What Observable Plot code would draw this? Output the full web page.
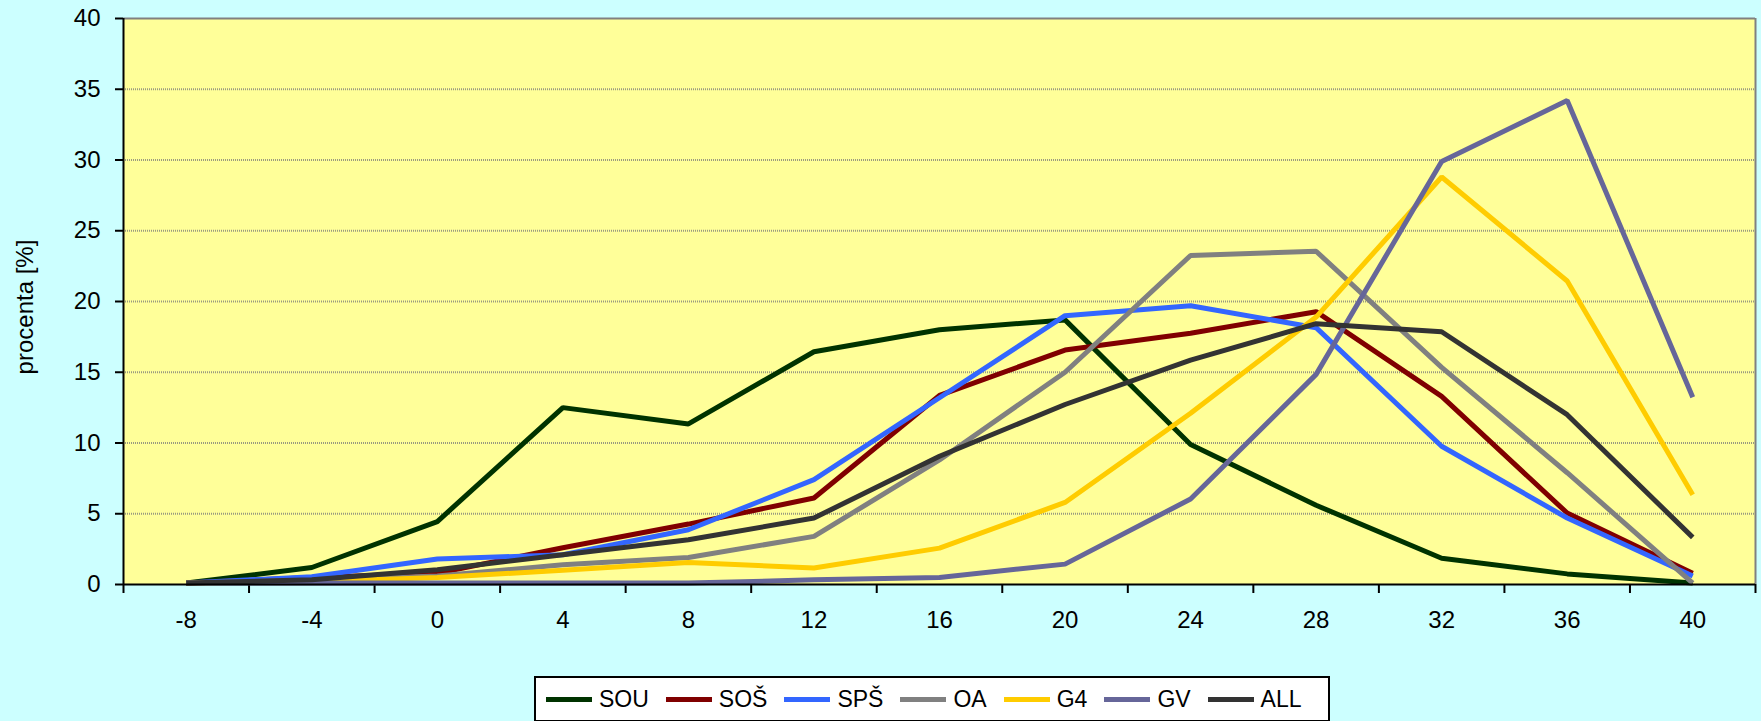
<!DOCTYPE html>
<html>
<head>
<meta charset="utf-8">
<script src="https://cdn.jsdelivr.net/npm/d3@7"></script>
<script src="https://cdn.jsdelivr.net/npm/@observablehq/plot@0.6"></script>
<style>
  html, body { margin: 0; padding: 0; background: #CCFFFF; }
  #wrap { position: relative; width: 1761px; height: 721px; overflow: hidden; background: #CCFFFF; font-family: "Liberation Sans", Arial, sans-serif; }
  #wrap svg { position: absolute; left: 0; top: 0; }
  #legend { position: absolute; left: 534px; top: 676px; width: 782px; height: 42px; border: 2px solid #000; background: #fff; display: flex; align-items: center; padding-left: 10px; box-sizing: content-box; }
  .item { display: flex; align-items: center; margin-right: 17px; font-size: 23px; color: #000; }
  .sw { width: 46px; height: 5px; margin-right: 7px; }
  #ylabel { position: absolute; left: 25px; top: 307px; transform: translate(-50%, -50%) rotate(-90deg); font-size: 24px; color: #000; white-space: nowrap; }
</style>
</head>
<body>
<div id="wrap"></div>
<script>
// ---- data ----
const categories = [-8, -4, 0, 4, 8, 12, 16, 20, 24, 28, 32, 36, 40];
const seriesNames = ["SOU", "SOŠ", "SPŠ", "OA", "G4", "GV", "ALL"];
const seriesColors = ["#003300", "#800000", "#3366FF", "#808080", "#FFCC00", "#666699", "#333333"];
const sou = [0.1, 1.2, 4.45, 12.5, 11.35, 16.45, 18.0, 18.7, 9.9, 5.6, 1.86, 0.75, 0.1];
const sos = [0.1, 0.5, 0.8, 2.6, 4.27, 6.11, 13.36, 16.57, 17.75, 19.28, 13.3, 5.05, 0.8];
const sps = [0.1, 0.55, 1.8, 2.1, 3.87, 7.41, 13.2, 19.0, 19.7, 18.15, 9.77, 4.7, 0.6];
const oa  = [0.1, 0.3, 0.6, 1.4, 1.91, 3.4, 8.8, 15.0, 23.25, 23.55, 15.35, 7.9, 0.1];
const g4  = [0.1, 0.2, 0.5, 1.0, 1.56, 1.16, 2.57, 5.8, 12.1, 18.9, 28.8, 21.45, 6.35];
const gv  = [0.1, 0.1, 0.1, 0.1, 0.1, 0.33, 0.5, 1.44, 6.04, 14.85, 29.9, 34.2, 13.24];
const all = [0.1, 0.33, 1.04, 2.11, 3.16, 4.7, 9.06, 12.72, 15.85, 18.43, 17.86, 12.0, 3.33];
const yTicks = [0, 5, 10, 15, 20, 25, 30, 35, 40];
const yLabel = "procenta [%]";

const seriesValues = [sou, sos, sps, oa, g4, gv, all];
const rows = [];
seriesNames.forEach((name, si) => {
  categories.forEach((c, i) => rows.push({series: name, x: c, y: seriesValues[si][i]}));
});
const step = categories[1] - categories[0];
const boundaries = [...categories.map(c => c - step / 2), categories[categories.length - 1] + step / 2];
const xMin = boundaries[0], xMax = boundaries[boundaries.length - 1];

const font = "Liberation Sans, Arial, sans-serif";

const chart = Plot.plot({
  width: 1761,
  height: 650,
  marginLeft: 123,
  marginRight: 6,
  marginTop: 18,
  marginBottom: 66,
  style: {background: "transparent", fontFamily: font, color: "#000", overflow: "visible"},
  x: {domain: [xMin, xMax]},
  y: {domain: [0, 40]},
  color: {domain: seriesNames, range: seriesColors},
  marks: [
    Plot.frame({fill: "#FFFF99", stroke: "none"}),
    Plot.ruleY(yTicks.slice(1, -1), {stroke: "#9a9a80", strokeWidth: 2, strokeDasharray: "1,1"}),
    Plot.ruleY([40], {stroke: "#808080", strokeWidth: 2}),
    Plot.ruleX([xMax], {stroke: "#808080", strokeWidth: 2}),
    Plot.axisY({ticks: yTicks, tickSize: 8, tickPadding: 15, fontSize: 24, label: null, stroke: "#000", strokeWidth: 2, tickFormat: d => String(d)}),
    Plot.axisX({ticks: boundaries, tickSize: 9, tickFormat: () => "", label: null, stroke: "#000", strokeWidth: 2}),
    Plot.axisX({ticks: categories, tickSize: 0, tickPadding: 26, fontSize: 24, label: null, tickFormat: d => String(d)}),
    Plot.line(rows, {x: "x", y: "y", z: "series", stroke: "series", strokeWidth: 5, strokeLinejoin: "miter", strokeLinecap: "butt"}),
    Plot.ruleX([xMin], {stroke: "#000", strokeWidth: 2}),
    Plot.ruleY([0], {stroke: "#000", strokeWidth: 2})
  ]
});
const wrap = document.getElementById("wrap");
wrap.appendChild(chart);

const yl = document.createElement("div");
yl.id = "ylabel";
yl.textContent = yLabel;
wrap.appendChild(yl);

// legend
const legend = document.createElement("div");
legend.id = "legend";
seriesNames.forEach((name, i) => {
  const item = document.createElement("div");
  item.className = "item";
  const sw = document.createElement("span");
  sw.className = "sw";
  sw.style.background = seriesColors[i];
  const t = document.createElement("span");
  t.textContent = name;
  item.appendChild(sw);
  item.appendChild(t);
  legend.appendChild(item);
});
wrap.appendChild(legend);
</script>
</body>
</html>
